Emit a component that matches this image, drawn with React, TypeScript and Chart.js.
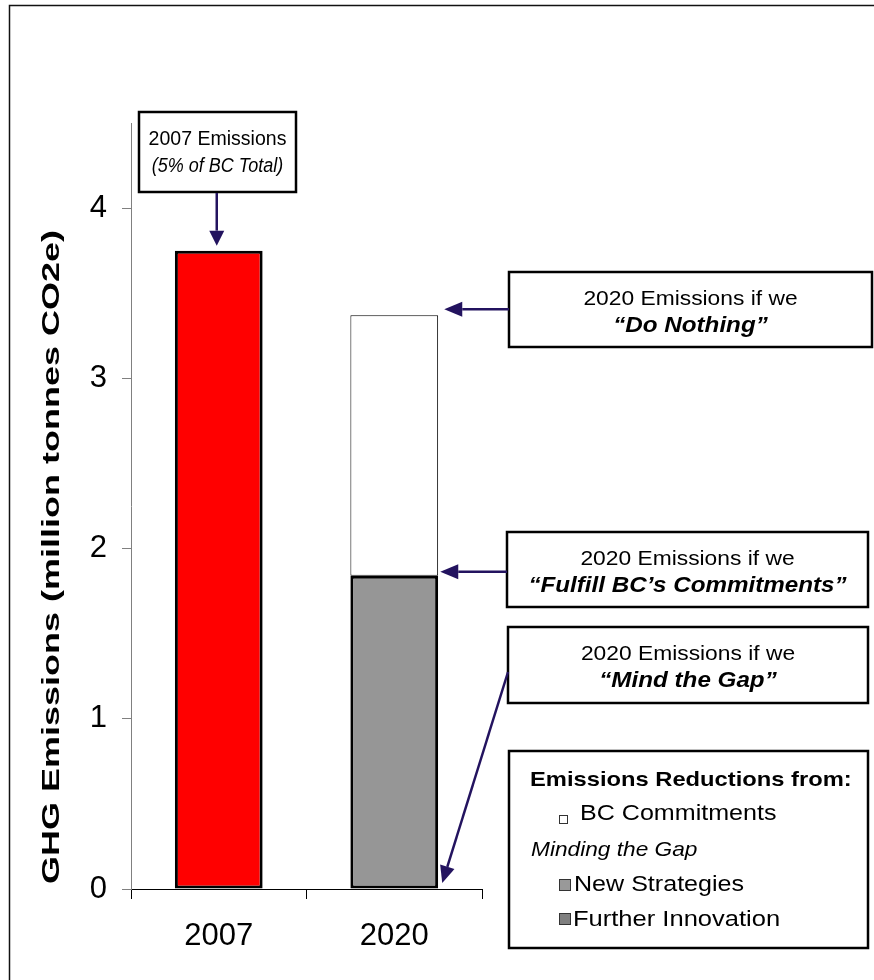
import React, { useEffect, useRef } from 'react';
import { Chart, registerables } from 'chart.js';

Chart.register(...registerables);

const FONT = '"Liberation Sans", Arial, Helvetica, sans-serif';

const CATEGORIES = ['2007', '2020'];
const EMISSIONS_2007 = [3.75, null];
const NEW_STRATEGIES = [null, 1.84];
const BC_COMMITMENTS = [null, 1.53];
const Y_TICKS = [0, 1, 2, 3, 4];
const Y_MAX = 4.5;
const Y_TITLE = 'GHG Emissions (million tonnes CO2e)';

const LEGEND_TITLE = 'Emissions Reductions from:';
const LEGEND_SUBTITLE = 'Minding the Gap';
const LEGEND_ITEMS = ['BC Commitments', 'New Strategies', 'Further Innovation'];
const LEGEND_COLORS = ['#ffffff', '#999999', '#7f7f7f'];

const CALLOUT_2007 = ['2007 Emissions', '(5% of BC Total)'];
const CALLOUT_NOTHING = ['2020 Emissions if we', '\u201CDo Nothing\u201D'];
const CALLOUT_FULFILL = ['2020 Emissions if we', '\u201CFulfill BC\u2019s Commitments\u201D'];
const CALLOUT_GAP = ['2020 Emissions if we', '\u201CMind the Gap\u201D'];

const ARROW = '#23135f';

function drawText(ctx: CanvasRenderingContext2D, s: string, x: number, y: number, font: string, sx: number, align: CanvasTextAlign) {
  ctx.save();
  ctx.font = font;
  ctx.fillStyle = '#000';
  ctx.textBaseline = 'middle';
  ctx.textAlign = align;
  ctx.translate(x, y);
  ctx.scale(sx, 1);
  ctx.fillText(s, 0, 0);
  ctx.restore();
}

function drawArrow(ctx: CanvasRenderingContext2D, x1: number, y1: number, x2: number, y2: number, len = 16, half = 7.5) {
  const a = Math.atan2(y2 - y1, x2 - x1);
  const bx = x2 - Math.cos(a) * len;
  const by = y2 - Math.sin(a) * len;
  ctx.save();
  ctx.strokeStyle = ARROW;
  ctx.fillStyle = ARROW;
  ctx.lineWidth = 2.5;
  ctx.beginPath();
  ctx.moveTo(x1, y1);
  ctx.lineTo(bx, by);
  ctx.stroke();
  ctx.beginPath();
  ctx.moveTo(x2, y2);
  ctx.lineTo(bx + Math.sin(a) * half, by - Math.cos(a) * half);
  ctx.lineTo(bx - Math.sin(a) * half, by + Math.cos(a) * half);
  ctx.closePath();
  ctx.fill();
  ctx.restore();
}

function drawBox(ctx: CanvasRenderingContext2D, x: number, y: number, w: number, h: number) {
  ctx.save();
  ctx.fillStyle = '#fff';
  ctx.fillRect(x, y, w, h);
  ctx.strokeStyle = '#000';
  ctx.lineWidth = 2.5;
  ctx.strokeRect(x, y, w, h);
  ctx.restore();
}

function drawCallout(
  ctx: CanvasRenderingContext2D,
  lines: string[],
  x: number,
  y: number,
  w: number,
  h: number,
  f1: string,
  sx1: number,
  f2: string,
  sx2: number
) {
  drawBox(ctx, x, y, w, h);
  const cx = x + w / 2;
  drawText(ctx, lines[0], cx, y + 27, f1, sx1, 'center');
  drawText(ctx, lines[1], cx, y + 54, f2, sx2, 'center');
}

const annotations = {
  id: 'annotations',
  afterDraw(chart: any) {
    const ctx: CanvasRenderingContext2D = chart.ctx;
    const xs = chart.scales.x;
    const ys = chart.scales.y;

    // outer frame
    ctx.save();
    ctx.strokeStyle = '#111';
    ctx.lineWidth = 1.5;
    ctx.beginPath();
    ctx.moveTo(9.5, 1000);
    ctx.lineTo(9.5, 5.5);
    ctx.lineTo(900, 5.5);
    ctx.stroke();
    ctx.restore();

    // y axis title (stretched along its length)
    ctx.save();
    ctx.translate(52, 557);
    ctx.rotate(-Math.PI / 2);
    ctx.scale(1.5, 1);
    ctx.font = `bold 24px ${FONT}`;
    ctx.fillStyle = '#000';
    ctx.textAlign = 'center';
    ctx.textBaseline = 'middle';
    ctx.fillText(Y_TITLE, 0, 0);
    ctx.restore();

    const barHalf = 44;
    const x2007 = xs.getPixelForValue(0);
    const x2020 = xs.getPixelForValue(1);
    const total2020 = (NEW_STRATEGIES[1] as number) + (BC_COMMITMENTS[1] as number);

    // 2007 callout
    drawCallout(ctx, CALLOUT_2007, 139, 112, 157, 80, `21px ${FONT}`, 0.93, `italic 20px ${FONT}`, 0.9);
    drawArrow(ctx, x2007 - 2, 193, x2007 - 2, ys.getPixelForValue(EMISSIONS_2007[0] as number) - 5, 15, 7.5);

    const f1 = `20px ${FONT}`;
    const f2 = `italic bold 22px ${FONT}`;

    // Do nothing
    const yNothing = ys.getPixelForValue(total2020) - 6;
    drawCallout(ctx, CALLOUT_NOTHING, 509, 272, 363, 75, f1, 1.14, f2, 1.1);
    drawArrow(ctx, 509, yNothing, x2020 + barHalf + 6, yNothing, 18, 7.5);

    // Fulfill
    const yFulfill = ys.getPixelForValue(NEW_STRATEGIES[1] as number) - 4;
    drawCallout(ctx, CALLOUT_FULFILL, 507, 532, 361, 75, f1, 1.14, f2, 1.1);
    drawArrow(ctx, 507, yFulfill, x2020 + barHalf + 2, yFulfill, 18, 7.5);

    // Mind the gap
    drawCallout(ctx, CALLOUT_GAP, 508, 627, 360, 76, f1, 1.14, f2, 1.1);
    drawArrow(ctx, 508, 672, x2020 + barHalf + 4, ys.getPixelForValue(0) - 6, 17, 7.5);

    // legend box
    drawBox(ctx, 509, 751, 359, 197);
    drawText(ctx, LEGEND_TITLE, 530, 780, `bold 21px ${FONT}`, 1.13, 'left');
    ctx.save();
    ctx.lineWidth = 1;
    ctx.strokeStyle = '#333';
    ctx.fillStyle = LEGEND_COLORS[0];
    ctx.fillRect(559.5, 815.5, 8, 8);
    ctx.strokeRect(559.5, 815.5, 8, 8);
    ctx.fillStyle = LEGEND_COLORS[1];
    ctx.fillRect(559.5, 879.5, 11, 11);
    ctx.strokeRect(559.5, 879.5, 11, 11);
    ctx.fillStyle = LEGEND_COLORS[2];
    ctx.fillRect(559.5, 913.5, 11, 11);
    ctx.strokeRect(559.5, 913.5, 11, 11);
    ctx.restore();
    drawText(ctx, LEGEND_ITEMS[0], 580, 814, `22px ${FONT}`, 1.14, 'left');
    drawText(ctx, LEGEND_SUBTITLE, 531, 850, `italic 21px ${FONT}`, 1.08, 'left');
    drawText(ctx, LEGEND_ITEMS[1], 574, 885, `22px ${FONT}`, 1.14, 'left');
    drawText(ctx, LEGEND_ITEMS[2], 573, 920, `22px ${FONT}`, 1.16, 'left');
  },
};

export default function App() {
  const ref = useRef<HTMLCanvasElement | null>(null);

  useEffect(() => {
    if (!ref.current) return;
    const chart = new Chart(ref.current, {
      type: 'bar',
      data: {
        labels: CATEGORIES,
        datasets: [
          {
            label: '2007 Emissions',
            data: EMISSIONS_2007,
            backgroundColor: '#ff0000',
            borderColor: '#000',
            borderWidth: 3,
            borderSkipped: false,
          },
          {
            label: LEGEND_ITEMS[1],
            data: NEW_STRATEGIES,
            backgroundColor: '#969696',
            borderColor: '#000',
            borderWidth: 3,
            borderSkipped: false,
          },
          {
            label: LEGEND_ITEMS[0],
            data: BC_COMMITMENTS,
            backgroundColor: '#ffffff',
            borderColor: '#000',
            borderWidth: 1,
            borderSkipped: false,
          },
        ],
      },
      options: {
        responsive: false,
        animation: false,
        devicePixelRatio: 1,
        layout: { padding: { top: 123, right: 392, left: 0, bottom: 0 } },
        datasets: { bar: { categoryPercentage: 1, barPercentage: 0.5 } },
        plugins: {
          legend: { display: false },
          tooltip: { enabled: false },
          title: { display: false },
        },
        scales: {
          x: {
            stacked: true,
            grid: { offset: true, drawOnChartArea: false, drawTicks: true, tickLength: 10, color: '#000' },
            border: { display: true, color: '#000', width: 1 },
            ticks: { font: { family: FONT, size: 31 }, color: '#000', padding: 19, maxRotation: 0 },
            afterFit: (s: any) => {
              s.height = 91;
            },
          },
          y: {
            stacked: true,
            min: 0,
            max: Y_MAX,
            grid: { drawOnChartArea: false, drawTicks: true, tickLength: 9, color: '#808080' },
            border: { display: true, color: '#808080', width: 1 },
            ticks: { font: { family: FONT, size: 31 }, color: '#000', padding: 15 },
            afterBuildTicks: (s: any) => {
              s.ticks = Y_TICKS.map((v) => ({ value: v }));
            },
            afterFit: (s: any) => {
              s.width = 131;
            },
          },
        },
      },
      plugins: [annotations],
    } as any);
    return () => chart.destroy();
  }, []);

  return (
    <div style={{ position: 'absolute', left: 0, top: 0, width: 874, height: 980, background: '#fff' }}>
      <canvas ref={ref} width={874} height={980} style={{ display: 'block', width: 874, height: 980 }} />
    </div>
  );
}
